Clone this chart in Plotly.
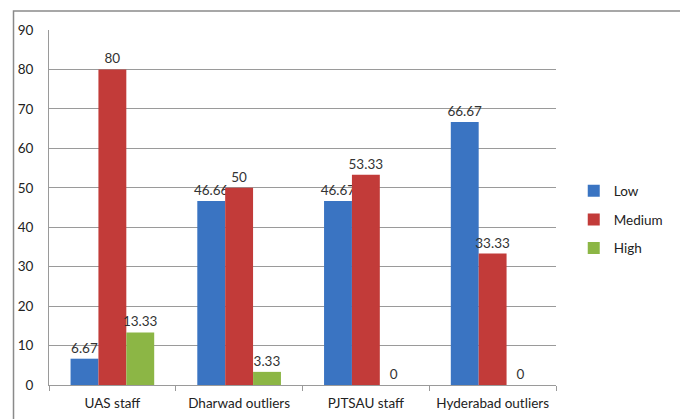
import plotly.graph_objects as go

# Survey groups and the share of respondents at each level (%)
groups = ["UAS staff", "Dharwad outliers", "PJTSAU staff", "Hyderabad outliers"]
low = [6.67, 46.66, 46.67, 66.67]
medium = [80, 50, 53.33, 33.33]
high = [13.33, 3.33, 0, 0]
level_names = ["Low", "Medium", "High"]
y_ticks = [0, 10, 20, 30, 40, 50, 60, 70, 80, 90]

colors = ["#3a74c2", "#c23b39", "#8cb645"]
font_family = "Lato, 'Open Sans', sans-serif"

fig = go.Figure()
for name, vals, col in zip(level_names, [low, medium, high], colors):
    fig.add_trace(go.Bar(
        name=name,
        x=groups,
        y=vals,
        marker=dict(color=col, line=dict(width=0)),
        text=[f"{v:g}" for v in vals],
        textposition="outside",
        constraintext="none",
        textfont=dict(size=13.5, color="#333333", family=font_family),
        cliponaxis=False,
        legendgroup=name,
    ))

fig.update_layout(
    width=680,
    height=419,
    margin=dict(l=49, r=88, t=30, b=34),
    paper_bgcolor="white",
    plot_bgcolor="white",
    barmode="group",
    bargap=0.34,
    bargroupgap=0,
    font=dict(family=font_family, size=13.5, color="#222222"),
    showlegend=True,
    legend=dict(
        x=1.035, y=0.466, xanchor="left", yanchor="middle",
        font=dict(size=13.5, color="#222222"),
        tracegroupgap=8,
        traceorder="grouped",
        itemwidth=30,
    ),
    xaxis=dict(
        type="category",
        automargin=False,
        showline=True, linecolor="#9a9a9a", linewidth=1,
        ticks="outside", tickson="boundaries", ticklen=5, tickcolor="#9a9a9a",
        ticklabelstandoff=6,
        showgrid=False,
        tickfont=dict(size=13.5, color="#222222"),
    ),
    yaxis=dict(
        range=[0, 90],
        automargin=False,
        tickvals=y_ticks,
        showline=True, linecolor="#9a9a9a", linewidth=1,
        showgrid=True, gridcolor="#9a9a9a", gridwidth=1,
        zeroline=False,
        ticks="",
        ticklabelstandoff=12,
        tickfont=dict(size=13.5, color="#222222"),
    ),
    shapes=[dict(
        type="rect", xref="paper", yref="paper",
        x0=-0.07, x1=1.3, y0=-0.3, y1=1.0535,
        line=dict(color="#8a8a8a", width=1.5),
        fillcolor="rgba(0,0,0,0)",
        layer="below",
    )],
)

fig.write_html("out.html")
